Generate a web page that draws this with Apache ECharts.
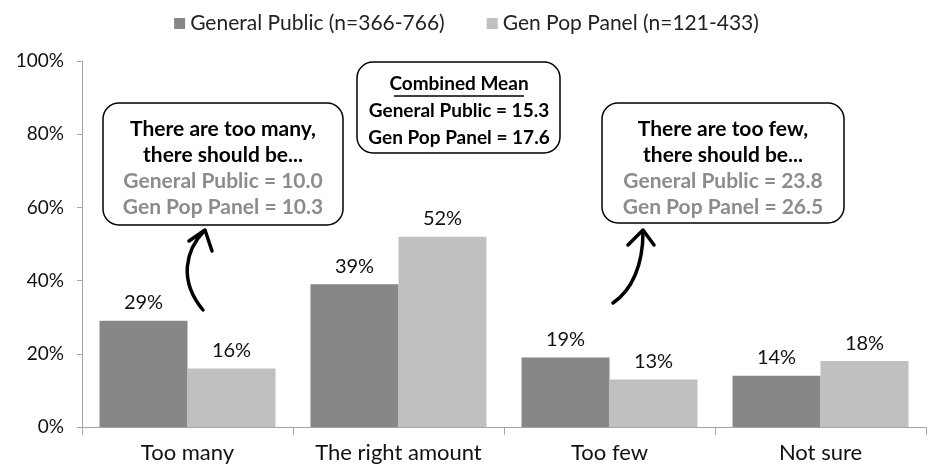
<!DOCTYPE html>
<html>
<head>
<meta charset="utf-8">
<script src="https://cdn.jsdelivr.net/npm/echarts@6/dist/echarts.min.js"></script>
<style>
  html, body { margin: 0; padding: 0; background: #fff; }
  #chart { width: 933px; height: 471px; }
</style>
</head>
<body>
<div id="chart"></div>
<script>
var categories = ["Too many", "The right amount", "Too few", "Not sure"];
var generalPublic = [29, 39, 19, 14];
var genPopPanel = [16, 52, 13, 18];
var seriesNames = ["General Public (n=366-766)", "Gen Pop Panel (n=121-433)"];

var FONT = "Lato";

// callout box text
var leftBox = ["There are too many,", "there should be...", "General Public = 10.0", "Gen Pop Panel = 10.3"];
var midBox = ["Combined Mean", "General Public = 15.3", "Gen Pop Panel = 17.6"];
var rightBox = ["There are too few,", "there should be...", "General Public = 23.8", "Gen Pop Panel = 26.5"];

function boxText(lines, cx, y0, step, colors, size) {
  return lines.map(function (t, i) {
    return {
      type: "text",
      style: {
        x: cx, y: y0 + i * step, text: t,
        fill: colors[i], font: "bold " + size + "px " + FONT,
        textAlign: "center", textVerticalAlign: "middle"
      }
    };
  });
}

var chart = echarts.init(document.getElementById("chart"));

var graphics = [
  { type: "rect", shape: { x: 103, y: 103, width: 240, height: 122, r: 16 },
    style: { fill: "#fff", stroke: "#000", lineWidth: 1.5 } },
  { type: "rect", shape: { x: 357, y: 62, width: 203, height: 91, r: 16 },
    style: { fill: "#fff", stroke: "#000", lineWidth: 1.5 } },
  { type: "rect", shape: { x: 602, y: 103, width: 242, height: 120, r: 16 },
    style: { fill: "#fff", stroke: "#000", lineWidth: 1.5 } },
  // underline for "Combined Mean"
  { type: "line", shape: { x1: 394, y1: 96, x2: 524, y2: 96 },
    style: { stroke: "#000", lineWidth: 1.5 } },
  // left arrow
  { type: "bezierCurve", shape: { x1: 203, y1: 310, cpx1: 178, cpy1: 280, x2: 204, y2: 231, cpx2: 186, cpy2: 250 },
    style: { stroke: "#000", lineWidth: 3.5, fill: null, lineCap: "round" } },
  { type: "polyline", shape: { points: [[189, 241], [205, 230], [212, 251]] },
    style: { stroke: "#000", lineWidth: 3.5, fill: null, lineCap: "round", lineJoin: "round" } },
  // right arrow
  { type: "bezierCurve", shape: { x1: 613, y1: 303, cpx1: 632, cpy1: 290, x2: 643, y2: 232, cpx2: 643, cpy2: 265 },
    style: { stroke: "#000", lineWidth: 3.5, fill: null, lineCap: "round" } },
  { type: "polyline", shape: { points: [[628, 245], [643, 230], [654, 245]] },
    style: { stroke: "#000", lineWidth: 3.5, fill: null, lineCap: "round", lineJoin: "round" } }
];
graphics = graphics
  .concat(boxText(leftBox, 223, 129, 26, ["#000", "#000", "#8c8c8c", "#8c8c8c"], 21))
  .concat(boxText(midBox, 459, 84, 27, ["#000", "#000", "#000"], 19))
  .concat(boxText(rightBox, 723, 129, 26, ["#000", "#000", "#8c8c8c", "#8c8c8c"], 21));

chart.setOption({
  animation: false,
  textStyle: { fontFamily: FONT },
  legend: {
    top: 8,
    left: "center",
    itemWidth: 11,
    itemHeight: 11,
    itemGap: 42,
    icon: "rect",
    textStyle: { fontSize: 21, color: "#222", fontFamily: FONT },
    data: seriesNames
  },
  grid: { left: 82, right: 7, top: 61, bottom: 44 },
  xAxis: {
    type: "category",
    data: categories,
    axisLine: { lineStyle: { color: "#a6a6a6" } },
    axisTick: { show: true, length: 8, lineStyle: { color: "#a6a6a6" } },
    axisLabel: { fontSize: 22, color: "#111", margin: 15, interval: 0, fontFamily: FONT }
  },
  yAxis: {
    type: "value",
    min: 0,
    max: 100,
    interval: 20,
    axisLine: { show: true, lineStyle: { color: "#a6a6a6" } },
    axisTick: { show: true, length: 5, lineStyle: { color: "#a6a6a6" } },
    splitLine: { show: false },
    axisLabel: { formatter: "{value}%", fontSize: 19, color: "#111", margin: 18, fontFamily: FONT }
  },
  series: [
    {
      name: seriesNames[0], type: "bar", data: generalPublic,
      barGap: "0%", barCategoryGap: "16.6%",
      itemStyle: { color: "#878787" },
      label: { show: true, position: "top", formatter: "{c}%", fontSize: 20, color: "#111", distance: 8 }
    },
    {
      name: seriesNames[1], type: "bar", data: genPopPanel,
      itemStyle: { color: "#c0c0c0" },
      label: { show: true, position: "top", formatter: "{c}%", fontSize: 20, color: "#111", distance: 8 }
    }
  ],
  graphic: graphics
});
</script>
</body>
</html>
